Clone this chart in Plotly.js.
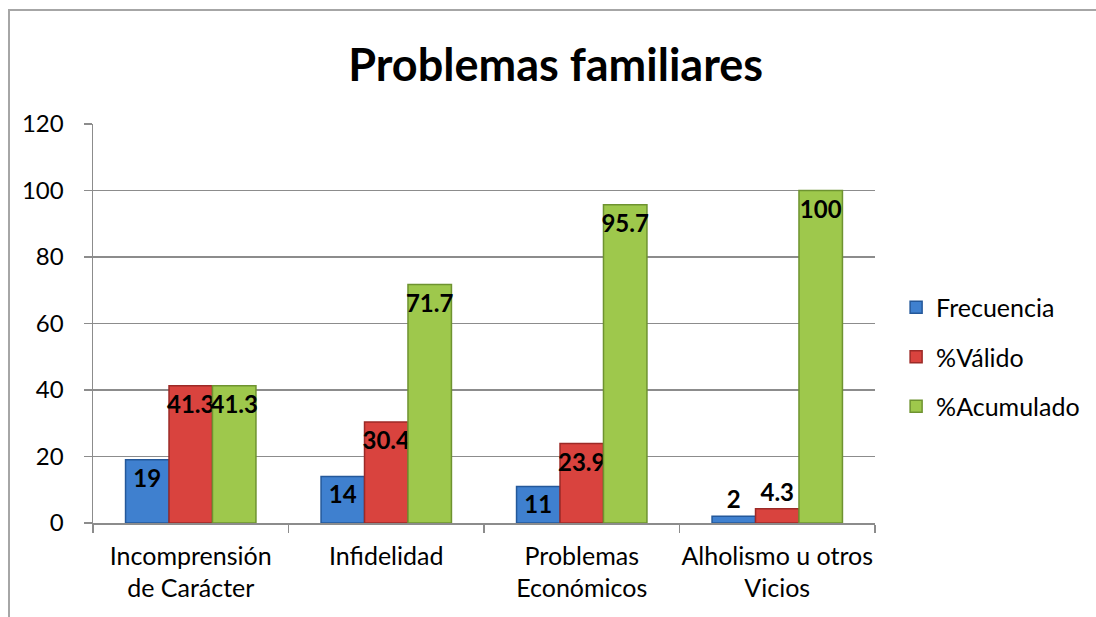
<!DOCTYPE html>
<html>
<head>
<meta charset="utf-8">
<script src="https://cdn.plot.ly/plotly-3.0.1.min.js"></script>
<style>
  html, body { margin: 0; padding: 0; background: #fff; }
  #wrap { position: absolute; left: 0; top: 0; width: 1096px; height: 617px; overflow: hidden; }
  #frame { position: absolute; left: 8px; top: 9px; width: 1200px; height: 800px;
           border-left: 2px solid #a6a6a6; border-top: 2px solid #a6a6a6; }
  #chart { position: absolute; left: 0; top: 0; width: 1096px; height: 617px; }
</style>
</head>
<body>
<div id="wrap">
  <div id="frame"></div>
  <div id="chart"></div>
</div>
<script>
const categories = ["Incomprensión<br>de Carácter", "Infidelidad", "Problemas<br>Económicos", "Alholismo u otros<br>Vicios"];
const frecuencia = [19, 14, 11, 2];
const valido = [41.3, 30.4, 23.9, 4.3];
const acumulado = [41.3, 71.7, 95.7, 100];
const seriesNames = ["Frecuencia", "%Válido", "%Acumulado"];

const FONT = "Lato, 'Liberation Sans', sans-serif";
const fills = ["#3f80cf", "#d9433e", "#9ec84c"];
const edges = ["#24589a", "#9c2a27", "#6e9330"];
const LBL = { family: FONT, size: 24, color: "#000", weight: "bold" };

function mk(vals, i) {
  return {
    type: "bar",
    name: seriesNames[i],
    x: categories,
    y: vals,
    legendgroup: "g" + i,
    marker: { color: fills[i], line: { color: edges[i], width: 1.5 } },
    text: vals.map(v => String(v)),
    texttemplate: "%{text}",
    textposition: vals.map(v => v < 8 ? "outside" : "inside"),
    insidetextanchor: "end",
    textangle: 0,
    constraintext: "none",
    cliponaxis: false,
    textfont: LBL,
    outsidetextfont: LBL,
    insidetextfont: LBL,
    hoverinfo: "x+y+name"
  };
}

const data = [mk(frecuencia, 0), mk(valido, 1), mk(acumulado, 2)];

const layout = {
  width: 1096, height: 617,
  paper_bgcolor: "rgba(0,0,0,0)",
  plot_bgcolor: "rgba(0,0,0,0)",
  margin: { l: 93, r: 221, t: 124, b: 94, pad: 0, autoexpand: false },
  font: { family: FONT, size: 25, color: "#000" },
  title: {
    text: "<b>Problemas familiares</b>",
    font: { family: FONT, size: 45, color: "#000" },
    x: 0.507, xref: "container", xanchor: "center",
    y: 0.895, yref: "container", yanchor: "middle"
  },
  barmode: "group",
  bargap: 0.333,
  bargroupgap: 0,
  showlegend: true,
  legend: {
    x: 1.027, xanchor: "left", y: 0.416, yanchor: "middle",
    font: { family: FONT, size: 25, color: "#000" },
    tracegroupgap: 14,
    traceorder: "grouped",
    itemwidth: 30,
    bgcolor: "rgba(0,0,0,0)"
  },
  xaxis: {
    type: "category",
    showline: true, linecolor: "#8c8c8c", linewidth: 1.5,
    ticks: "outside", tickson: "boundaries", ticklen: 8, tickcolor: "#8c8c8c", tickwidth: 1.5,
    showgrid: false,
    tickangle: 0,
    automargin: false,
    tickfont: { family: FONT, size: 25, color: "#000" },
    ticklabelstandoff: 10,
    fixedrange: true
  },
  yaxis: {
    range: [0, 120], dtick: 20, tick0: 0,
    showline: true, linecolor: "#8c8c8c", linewidth: 1.5,
    ticks: "outside", ticklen: 8, tickcolor: "#8c8c8c", tickwidth: 1.5,
    showgrid: true, gridcolor: "#8c8c8c", gridwidth: 1.5,
    zeroline: false,
    automargin: false,
    tickfont: { family: FONT, size: 24, color: "#000" },
    ticklabelstandoff: 15,
    fixedrange: true
  }
};

Plotly.newPlot("chart", data, layout, { displayModeBar: false, staticPlot: true });
</script>
</body>
</html>
